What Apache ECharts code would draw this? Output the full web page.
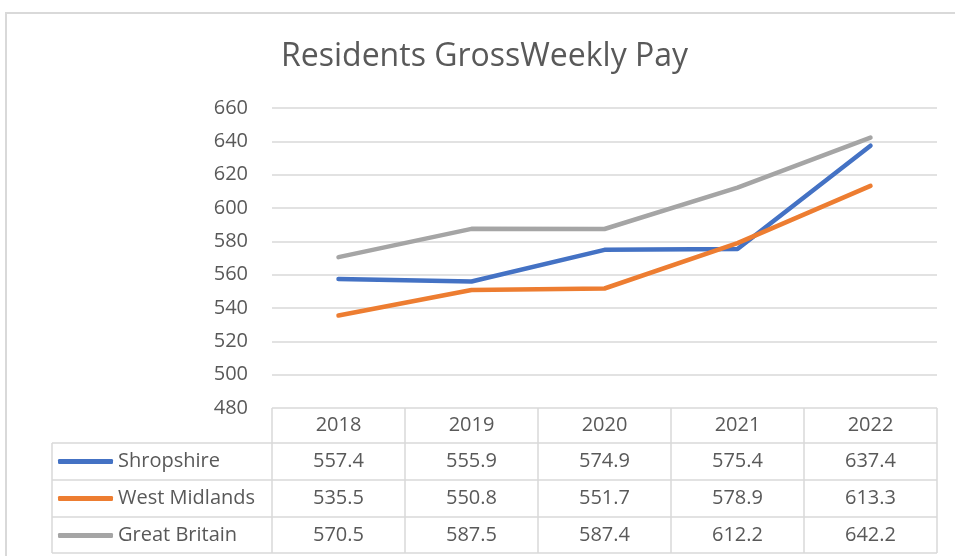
<!DOCTYPE html>
<html>
<head>
<meta charset="utf-8">
<script src="https://cdn.jsdelivr.net/npm/echarts@6/dist/echarts.min.js"></script>
<style>
  html, body { margin: 0; padding: 0; background: #fff; }
  #chart { width: 955px; height: 556px; }
</style>
</head>
<body>
<div id="chart"></div>
<script>
// data
const years = ['2018', '2019', '2020', '2021', '2022'];
const shropshire = [557.4, 555.9, 574.9, 575.4, 637.4];
const westMidlands = [535.5, 550.8, 551.7, 578.9, 613.3];
const greatBritain = [570.5, 587.5, 587.4, 612.2, 642.2];
const seriesNames = ['Shropshire', 'West Midlands', 'Great Britain'];
const seriesData = [shropshire, westMidlands, greatBritain];
const yMin = 480, yMax = 660, yStep = 20;

// layout
const colors = ['#4472C4', '#ED7D31', '#A5A5A5'];
const textColor = '#595959';
const lineColor = '#D9D9D9';
const font = 'Open Sans';
const labelSize = 20;
const plotLeft = 272, plotRight = 937, plotTop = 108, plotBottom = 408;
const tableLeft = 52;
const rowHeights = [35, 37, 37, 36];

var myChart = echarts.init(document.getElementById('chart'));

// row edges of the data table
const rowEdges = [plotBottom];
rowHeights.forEach(h => rowEdges.push(rowEdges[rowEdges.length - 1] + h));
const rowCenter = i => (rowEdges[i] + rowEdges[i + 1]) / 2 - plotBottom;

const band = (plotRight - plotLeft) / years.length;

// table grid lines
const tableLines = [];
const hLine = (x1, x2, y) => tableLines.push({ type: 'line', shape: { x1, y1: y, x2, y2: y }, style: { stroke: lineColor, lineWidth: 1.5 }, silent: true });
const vLine = (x, y1, y2) => tableLines.push({ type: 'line', shape: { x1: x, y1, x2: x, y2 }, style: { stroke: lineColor, lineWidth: 1.5 }, silent: true });
for (let i = 1; i < rowEdges.length; i++) hLine(tableLeft, plotRight, rowEdges[i]);
vLine(tableLeft, rowEdges[1], rowEdges[rowEdges.length - 1]);
for (let c = 0; c <= years.length; c++) vLine(plotLeft + c * band, rowEdges[0], rowEdges[rowEdges.length - 1]);

// one hidden category axis per table row, used to print the values
const xAxes = [{
  type: 'category',
  data: years,
  boundaryGap: true,
  axisLine: { show: false },
  axisTick: { show: false },
  axisLabel: { color: textColor, fontFamily: font, fontSize: labelSize, margin: rowCenter(0), verticalAlign: 'middle', interval: 0 }
}];
seriesData.forEach((vals, i) => {
  xAxes.push({
    type: 'category',
    position: 'bottom',
    data: vals.map(v => v.toFixed(1)),
    axisLine: { show: false },
    axisTick: { show: false },
    axisLabel: { color: textColor, fontFamily: font, fontSize: labelSize, margin: rowCenter(i + 1), verticalAlign: 'middle', interval: 0 }
  });
});

myChart.setOption({
  animation: false,
  title: {
    text: 'Residents GrossWeekly Pay',
    left: 281,
    top: 41,
    padding: 0,
    textStyle: { color: textColor, fontFamily: font, fontSize: 32, fontWeight: 'normal' }
  },
  legend: {
    orient: 'vertical',
    left: 58,
    top: rowEdges[1] + 8.5,
    padding: 0,
    itemGap: 17,
    itemWidth: 55,
    itemHeight: 5,
    icon: 'roundRect',
    selectedMode: false,
    data: seriesNames,
    textStyle: { color: textColor, fontFamily: font, fontSize: labelSize, lineHeight: 20 }
  },
  grid: {
    left: plotLeft,
    right: 955 - plotRight,
    top: plotTop,
    bottom: 556 - plotBottom
  },
  xAxis: xAxes,
  yAxis: {
    type: 'value',
    min: yMin,
    max: yMax,
    interval: yStep,
    axisLine: { show: false },
    axisTick: { show: false },
    splitLine: { lineStyle: { color: lineColor, width: 1.5 } },
    axisLabel: { color: textColor, fontFamily: font, fontSize: labelSize, margin: 24 }
  },
  graphic: [
    {
      type: 'rect',
      shape: { x: 6, y: 13, width: 1200, height: 800 },
      style: { fill: 'none', stroke: lineColor, lineWidth: 2 },
      silent: true
    },
    ...tableLines
  ],
  series: seriesData.map((vals, i) => ({
    name: seriesNames[i],
    type: 'line',
    xAxisIndex: 0,
    data: vals,
    showSymbol: false,
    symbol: 'none',
    itemStyle: { color: colors[i] },
    lineStyle: { color: colors[i], width: 4.5, cap: 'round', join: 'round' }
  }))
});
</script>
</body>
</html>
